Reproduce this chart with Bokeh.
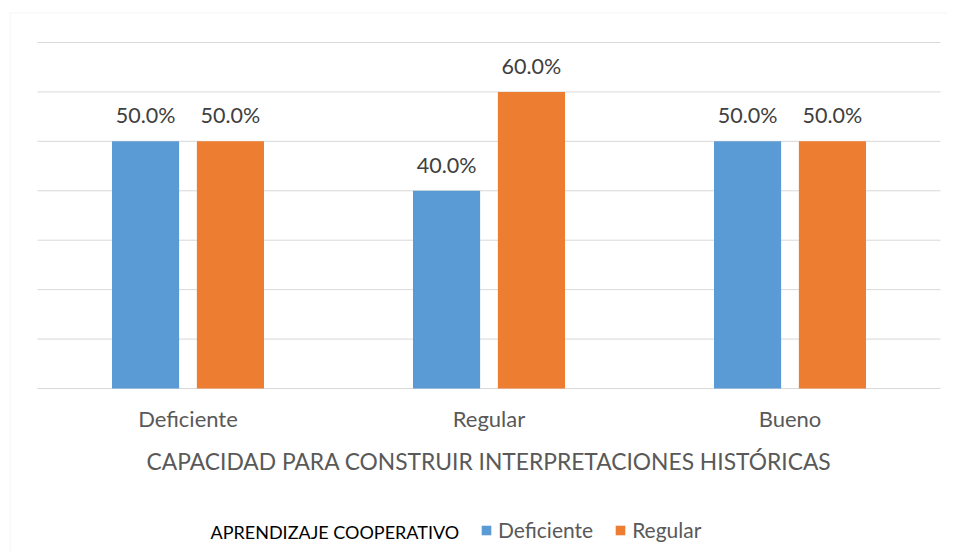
from bokeh.plotting import figure
from bokeh.models import ColumnDataSource, Range1d, LabelSet, Label, Legend, LegendItem, BoxAnnotation
from bokeh.core.properties import value
from bokeh.transform import dodge
from bokeh.embed import file_html
from bokeh.resources import INLINE

categories = ["Deficiente", "Regular", "Bueno"]
series_names = ["Deficiente", "Regular"]
deficiente = [0.5, 0.4, 0.5]
regular = [0.5, 0.6, 0.5]
y_ticks = [0.0, 0.1, 0.2, 0.3, 0.4, 0.5, 0.6, 0.7]
x_title = "CAPACIDAD PARA CONSTRUIR INTERPRETACIONES HISTÓRICAS"
legend_title = "APRENDIZAJE COOPERATIVO"

FONT = "Lato"
BLUE = "#5B9BD5"
ORANGE = "#ED7D31"
GRID = "#D9D9D9"
TXT = "#595959"

# layout (pixels)
W, H = 947, 552
PX_X = 301.0            # pixels per category
PLOT_L, PLOT_R = 37, 940
ZERO_Y = 388
PX_Y = 346 / 0.7        # pixels per unit of value
BORDER_X, BORDER_Y = 9, 12

n = len(categories)
x_start = -PLOT_L / PX_X
x_end = n + (W - PLOT_R) / PX_X
y_end = ZERO_Y / PX_Y
y_start = -(H - ZERO_Y) / PX_Y

src = ColumnDataSource(dict(
    xc=[i + 0.5 for i in range(n)],
    cat=categories,
    d=deficiente,
    r=regular,
    zero=[0.0] * n,
    dl=[f"{v*100:.1f}%" for v in deficiente],
    rl=[f"{v*100:.1f}%" for v in regular],
))
grid_src = ColumnDataSource(dict(y=y_ticks, x0=[0] * len(y_ticks), x1=[n] * len(y_ticks)))

p = figure(
    width=W, height=H,
    x_range=Range1d(x_start, x_end),
    y_range=Range1d(y_start, y_end),
    output_backend="svg", toolbar_location=None,
    min_border_left=0, min_border_right=0, min_border_top=0, min_border_bottom=0,
)
p.outline_line_color = None
p.xaxis.visible = False
p.yaxis.visible = False
p.xgrid.visible = False
p.ygrid.visible = False

# outer chart border (left and top edges visible)
p.add_layout(BoxAnnotation(left=(BORDER_X - PLOT_L + 0.5) / PX_X, right=x_end + 1,
                           top=(ZERO_Y - BORDER_Y - 0.5) / PX_Y, bottom=y_start - 1,
                           fill_alpha=0, line_color=GRID, line_width=1, level="underlay"))

# horizontal gridlines (incl. category axis line at 0)
p.segment(x0="x0", x1="x1", y0="y", y1="y", source=grid_src, line_color=GRID, line_width=1)

off = 0.141
bw = 0.223
r1 = p.vbar(x=dodge("xc", -off), top="d", width=bw, source=src, fill_color=BLUE, line_color=None)
r2 = p.vbar(x=dodge("xc", off), top="r", width=bw, source=src, fill_color=ORANGE, line_color=None)

for col, lab, o in (("d", "dl", -off), ("r", "rl", off)):
    p.add_layout(LabelSet(x=dodge("xc", o), y=col, text=lab, source=src,
                          text_align="center", text_baseline="middle", y_offset=26,
                          text_font=value(FONT), text_font_size="21.5px", text_color="#404040"))

# category labels
p.add_layout(LabelSet(x="xc", y="zero", text="cat", source=src, text_align="center",
                      text_baseline="middle", y_offset=-30,
                      text_font=value(FONT), text_font_size="22px", text_color=TXT))

# category axis title
p.add_layout(Label(x=n / 2, y=0, y_offset=-72, text=x_title,
                   text_align="center", text_baseline="middle",
                   text_font=FONT, text_font_size="22.8px", text_color=TXT))

legend = Legend(
    items=[LegendItem(label=series_names[0], renderers=[r1]),
           LegendItem(label=series_names[1], renderers=[r2])],
    orientation="horizontal",
    location=(480, 10),
    label_text_font=FONT, label_text_font_size="21px", label_text_color=TXT,
    glyph_width=12, glyph_height=12, spacing=21, label_standoff=6,
    background_fill_alpha=0, border_line_color=None, padding=0, margin=0,
)
p.add_layout(legend, "center")

p.add_layout(Label(x=(210 - PLOT_L) / PX_X, y=0, y_offset=-143, text=legend_title,
                   text_font=FONT, text_font_size="18px", text_color="#000000",
                   text_baseline="middle", text_align="left"))

open("out.html", "w").write(file_html(p, INLINE))
